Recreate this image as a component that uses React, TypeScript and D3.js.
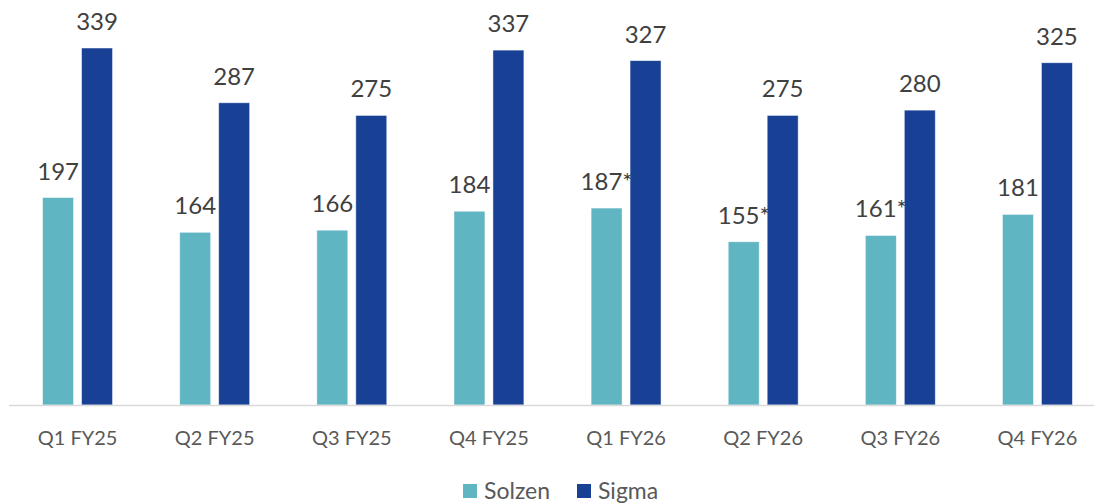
import { useEffect, useRef } from "react";
import * as d3 from "d3";

const quarters = ["Q1 FY25", "Q2 FY25", "Q3 FY25", "Q4 FY25", "Q1 FY26", "Q2 FY26", "Q3 FY26", "Q4 FY26"];
const seriesNames = ["Solzen", "Sigma"];
const solzen = [197, 164, 166, 184, 187, 155, 161, 181];
const sigma = [339, 287, 275, 337, 327, 275, 280, 325];
// quarters where the Solzen figure carries an asterisk
const solzenNotes = ["", "", "", "", "*", "*", "*", ""];
const colors = ["#5FB5C2", "#184195"];

export default function App() {
    const ref = useRef<SVGSVGElement>(null);
    const width = 1094;
    const height = 504;

    useEffect(() => {
        const svg = d3.select(ref.current);
        svg.selectAll("*").remove();

        const font = "Lato, 'Open Sans', sans-serif";

        const x0 = d3.scaleBand<string>()
            .domain(quarters)
            .range([9, 1106])
            .paddingInner(0.49)
            .paddingOuter(0.245);

        const x1 = d3.scaleBand<string>()
            .domain(seriesNames)
            .range([0, x0.bandwidth()])
            .paddingInner(0.205);

        const y = d3.scaleLinear().domain([0, 339]).range([405, 48]);

        const rows = quarters.map((q, i) => ({
            q,
            values: [
                { name: "Solzen", v: solzen[i], label: `${solzen[i]}${solzenNotes[i]}` },
                { name: "Sigma", v: sigma[i], label: `${sigma[i]}` },
            ],
        }));

        const groups = svg.append("g").selectAll("g.grp")
            .data(rows)
            .enter().append("g")
            .attr("class", "grp")
            .attr("transform", d => `translate(${x0(d.q)},0)`);

        groups.selectAll("rect")
            .data(d => d.values)
            .enter().append("rect")
            .attr("x", d => x1(d.name)!)
            .attr("y", d => y(d.v))
            .attr("width", x1.bandwidth())
            .attr("height", d => y(0) - y(d.v))
            .attr("fill", (d, i) => colors[i])
            .attr("stroke", "#ffffff")
            .attr("stroke-opacity", 0.6)
            .attr("stroke-width", 0.8);

        groups.selectAll("text")
            .data(d => d.values)
            .enter().append("text")
            .attr("x", d => x1(d.name)! + x1.bandwidth() / 2)
            .attr("y", d => y(d.v) - 18)
            .attr("text-anchor", "middle")
            .style("font-family", font)
            .style("font-size", "24px")
            .attr("fill", "#404040")
            .text(d => d.label);

        // x axis line
        svg.append("line")
            .attr("x1", 9)
            .attr("x2", width)
            .attr("y1", y(0) + 0.5)
            .attr("y2", y(0) + 0.5)
            .attr("stroke", "#d9d9d9")
            .attr("stroke-width", 1.5);

        svg.append("g").selectAll("text")
            .data(quarters)
            .enter().append("text")
            .attr("x", d => x0(d)! + x0.bandwidth() / 2)
            .attr("y", 445)
            .attr("text-anchor", "middle")
            .style("font-family", font)
            .style("font-size", "20px")
            .attr("fill", "#595959")
            .text(d => d);

        // legend
        const legend = svg.append("g");
        const legendX = [463, 577];
        seriesNames.forEach((name, i) => {
            legend.append("rect")
                .attr("x", legendX[i])
                .attr("y", 484)
                .attr("width", 14)
                .attr("height", 14)
                .attr("fill", colors[i]);
            legend.append("text")
                .attr("x", legendX[i] + 21)
                .attr("y", 499)
                .style("font-family", font)
                .style("font-size", "23px")
                .attr("fill", "#595959")
                .text(name);
        });
    }, []);

    return (
        <svg
            ref={ref}
            width={width}
            height={height}
            style={{ position: "absolute", left: 0, top: 0, background: "#fff" }}
        ></svg>
    );
}
